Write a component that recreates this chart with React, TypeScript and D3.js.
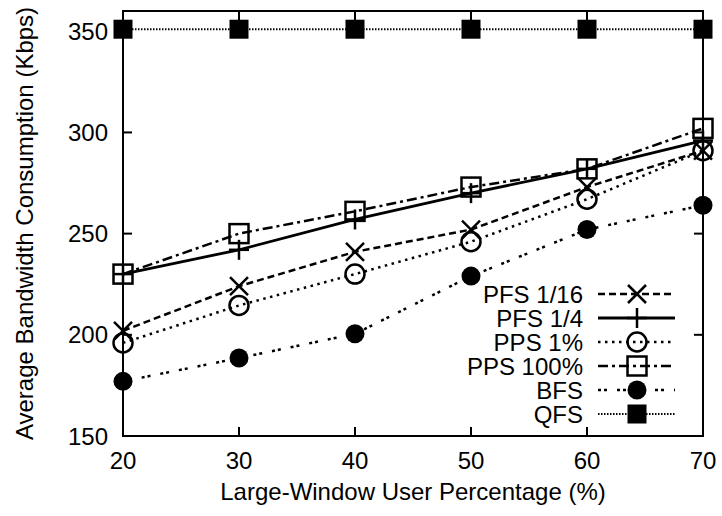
import React from "react";
import * as d3 from "d3";

const xValues = [20, 30, 40, 50, 60, 70];
const seriesNames = ["PFS 1/16", "PFS 1/4", "PPS 1%", "PPS 100%", "BFS", "QFS"];
const pfs16 = [202, 224, 241, 252, 273, 291];
const pfs4 = [230, 242, 257, 270, 282, 296];
const pps1 = [196, 214.5, 230, 246, 267, 291];
const pps100 = [230, 250, 261, 273, 282, 302];
const bfs = [177, 188.5, 200.5, 229, 252, 264];
const qfs = [351, 351, 351, 351, 351, 351];
const xTicks = [20, 30, 40, 50, 60, 70];
const yTicks = [150, 200, 250, 300, 350];

const W = 722;
const H = 516;
const left = 123;
const right = 703;
const top = 11;
const bottom = 436;
const FONT = "'Liberation Sans', Arial, Helvetica, sans-serif";

type Marker = "x" | "plus" | "circle" | "square" | "dot" | "fsquare";

const styles: { dash: string | undefined; width: number; marker: Marker }[] = [
  { dash: "7,4", width: 2.5, marker: "x" },
  { dash: undefined, width: 2.8, marker: "plus" },
  { dash: "2.5,4.5", width: 2.5, marker: "circle" },
  { dash: "10,4,3,4", width: 2.5, marker: "square" },
  { dash: "3,3,3,10", width: 2.5, marker: "dot" },
  { dash: "1.5,1.5", width: 2, marker: "fsquare" },
];

function MarkerShape({ type, x, y }: { type: Marker; x: number; y: number }) {
  const s = 9;
  const sw = 2.5;
  switch (type) {
    case "x":
      return (
        <g stroke="#000" strokeWidth={sw}>
          <line x1={x - s} y1={y - s} x2={x + s} y2={y + s} />
          <line x1={x - s} y1={y + s} x2={x + s} y2={y - s} />
        </g>
      );
    case "plus":
      return (
        <g stroke="#000" strokeWidth={sw}>
          <line x1={x - s - 1} y1={y} x2={x + s + 1} y2={y} />
          <line x1={x} y1={y - s - 1} x2={x} y2={y + s + 1} />
        </g>
      );
    case "circle":
      return <circle cx={x} cy={y} r={9.5} fill="none" stroke="#000" strokeWidth={sw} />;
    case "square":
      return <rect x={x - 9.5} y={y - 9.5} width={19} height={19} fill="none" stroke="#000" strokeWidth={sw} />;
    case "dot":
      return <circle cx={x} cy={y} r={9.5} fill="#000" />;
    case "fsquare":
      return <rect x={x - 9.5} y={y - 9.5} width={19} height={19} fill="#000" />;
  }
}

export default function App() {
  const xScale = d3.scaleLinear().domain([20, 70]).range([left, right]);
  const yScale = d3.scaleLinear().domain([150, 360]).range([bottom, top]);
  const allSeries = [pfs16, pfs4, pps1, pps100, bfs, qfs];
  const line = d3
    .line<number>()
    .x((_, i) => xScale(xValues[i]))
    .y((d) => yScale(d));

  const tickLen = 9;
  const legendX = 583;
  const legendY0 = 294;
  const legendStep = 24;
  const sampleX1 = 598;
  const sampleX2 = 675;
  const sampleMid = 637;

  return (
    <svg
      width={W}
      height={H}
      style={{ position: "fixed", left: 0, top: 0, background: "#fff" }}
      fontFamily={FONT}
    >
      <rect x={0} y={0} width={W} height={H} fill="#fff" />
      {/* ticks */}
      <g stroke="#000" strokeWidth={2}>
        {xTicks.map((t) => (
          <g key={"xt" + t}>
            <line x1={xScale(t)} x2={xScale(t)} y1={bottom} y2={bottom - tickLen} />
            <line x1={xScale(t)} x2={xScale(t)} y1={top} y2={top + tickLen} />
          </g>
        ))}
        {yTicks.map((t) => (
          <g key={"yt" + t}>
            <line x1={left} x2={left + tickLen} y1={yScale(t)} y2={yScale(t)} />
            <line x1={right} x2={right - tickLen} y1={yScale(t)} y2={yScale(t)} />
          </g>
        ))}
      </g>
      {/* tick labels */}
      <g fontSize={24} fill="#000">
        {xTicks.map((t) => (
          <text key={"xl" + t} x={xScale(t)} y={bottom + 33} textAnchor="middle">
            {t}
          </text>
        ))}
        {yTicks.map((t) => (
          <text key={"yl" + t} x={left - 15} y={yScale(t) + 8.5} textAnchor="end">
            {t}
          </text>
        ))}
      </g>
      {/* axis titles */}
      <text x={(left + right) / 2} y={500} textAnchor="middle" fontSize={24} fill="#000">
        Large-Window User Percentage (%)
      </text>
      <text
        transform={`translate(33, ${(top + bottom) / 2}) rotate(-90)`}
        textAnchor="middle"
        fontSize={24}
        fill="#000"
      >
        Average Bandwidth Consumption (Kbps)
      </text>
      {/* series */}
      {allSeries.map((vals, si) => (
        <g key={"s" + si}>
          <path
            d={line(vals) || ""}
            fill="none"
            stroke="#000"
            strokeWidth={styles[si].width}
            strokeDasharray={styles[si].dash}
          />
          {vals.map((v, i) => (
            <MarkerShape key={i} type={styles[si].marker} x={xScale(xValues[i])} y={yScale(v)} />
          ))}
        </g>
      ))}
      {/* legend */}
      {seriesNames.map((name, i) => {
        const y = legendY0 + i * legendStep;
        return (
          <g key={"lg" + i}>
            <text x={legendX} y={y + 8.5} textAnchor="end" fontSize={24} fill="#000">
              {name}
            </text>
            <line
              x1={sampleX1}
              x2={sampleX2}
              y1={y}
              y2={y}
              stroke="#000"
              strokeWidth={styles[i].width}
              strokeDasharray={styles[i].dash}
            />
            <MarkerShape type={styles[i].marker} x={sampleMid} y={y} />
          </g>
        );
      })}
      {/* frame */}
      <rect x={left} y={top} width={right - left} height={bottom - top} fill="none" stroke="#000" strokeWidth={2} />
    </svg>
  );
}
